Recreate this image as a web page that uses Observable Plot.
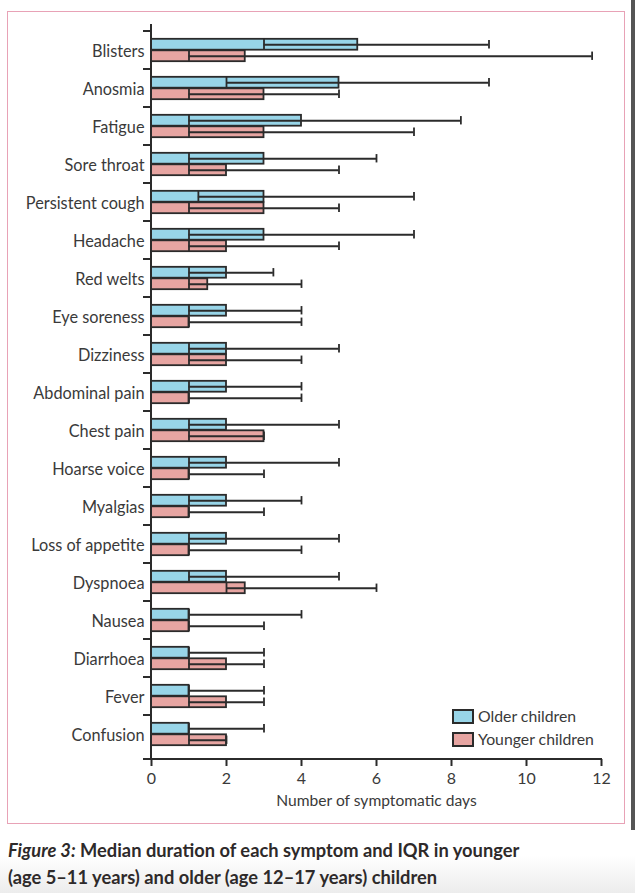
<!DOCTYPE html>
<html>
<head>
<meta charset="utf-8">
<script src="https://cdn.jsdelivr.net/npm/d3@7"></script>
<script src="https://cdn.jsdelivr.net/npm/@observablehq/plot@0.6"></script>
<style>
  html, body { margin: 0; padding: 0; background: #fff; }
  body { width: 635px; height: 893px; overflow: hidden; position: relative; font-family: Lato, "Noto Sans", sans-serif; }
  #wrap { position: absolute; left: 0; top: 0; width: 635px; height: 893px;
    background: linear-gradient(to bottom, #fff 0px, #fff 855px, #ececec 893px); }
  #frame { position: absolute; left: 7px; top: 11px; width: 616px; height: 811px; border: 1.5px solid #e8a2b6; }
  #edge { position: absolute; left: 631px; top: 0; width: 4px; height: 830px; background: #555; }
  #chart { position: absolute; left: 0; top: 0; }
  .leg { position: absolute; left: 452px; font-size: 15.8px; color: #3a3a3a; line-height: 16px; }
  .leg span.sw { position: absolute; left: 0; top: 0; width: 18px; height: 11px; border: 2px solid #2b2b2b; box-sizing: content-box; }
  .leg span.t { position: absolute; left: 26px; top: -1px; white-space: nowrap; }
  #cap { position: absolute; left: 8px; top: 837px; font-size: 18.3px; font-weight: 700; color: #2e2a2a; line-height: 27px; white-space: nowrap; }
</style>
</head>
<body>
<div id="wrap">
  <div id="frame"></div>
  <div id="edge"></div>
  <div id="chart"></div>
  <div class="leg" style="top:709px"><span class="sw" style="background:#98d5e8"></span><span class="t">Older children</span></div>
  <div class="leg" style="top:732px"><span class="sw" style="background:#e7a5a2"></span><span class="t">Younger children</span></div>
  <div id="cap"><i>Figure 3:</i> Median duration of each symptom and IQR in younger<br>(age 5–11 years) and older (age 12–17 years) children</div>
</div>
<script>
const symptoms = ["Blisters","Anosmia","Fatigue","Sore throat","Persistent cough","Headache","Red welts","Eye soreness","Dizziness","Abdominal pain","Chest pain","Hoarse voice","Myalgias","Loss of appetite","Dyspnoea","Nausea","Diarrhoea","Fever","Confusion"];
const olderMedian = [5.5,5,4,3,3,3,2,2,2,2,2,2,2,2,2,1,1,1,1];
const olderQ1     = [3,2,1,1,1.25,1,1,1,1,1,1,1,1,1,1,1,1,1,1];
const olderQ3     = [9,9,8.25,6,7,7,3.25,4,5,4,5,5,4,5,5,4,3,3,3];
const youngerMedian = [2.5,3,3,2,3,2,1.5,1,2,1,3,1,1,1,2.5,1,2,2,2];
const youngerQ1     = [1,1,1,1,1,1,1,1,1,1,1,1,1,1,2,1,1,1,1];
const youngerQ3     = [11.75,5,7,5,5,5,4,4,4,4,3,3,3,4,6,3,3,3,2];
const xTicks = [0,2,4,6,8,10,12];

const INK = "#2b2b2b";
const BLUE = "#98d5e8";
const PINK = "#e7a5a2";

const older = symptoms.map((s, i) => ({symptom: s, median: olderMedian[i], q1: olderQ1[i], q3: olderQ3[i]}));
const younger = symptoms.map((s, i) => ({symptom: s, median: youngerMedian[i], q1: youngerQ1[i], q3: youngerQ3[i]}));

const H = 815, MT = 25, MB = 56;
const band = (H - MT - MB) / symptoms.length;
const barH = 11.5;
const mid = band / 2;
const oTop = mid - barH, oBot = band - mid;
const yTop = mid, yBot = band - mid - barH;
const capH = 9;
const oC = mid - barH / 2, yC = mid + barH / 2;

function axisLines(index, scales, values, dims) {
  const x = scales.x, y = scales.y;
  const top = dims.marginTop, bottom = dims.height - dims.marginBottom;
  const x0 = x(0), x1 = x(12);
  const g = d3.create("svg:g").attr("stroke", INK).attr("stroke-width", 2).attr("fill", "none");
  g.append("line").attr("x1", x0).attr("x2", x0).attr("y1", top - 1).attr("y2", bottom + 1);
  g.append("line").attr("x1", x0).attr("x2", x1 + 1).attr("y1", bottom).attr("y2", bottom);
  const bounds = symptoms.map(s => y(s)).concat([bottom]);
  for (const b of bounds) {
    g.append("line").attr("x1", x0 - 8).attr("x2", x0).attr("y1", b).attr("y2", b);
  }
  return g.node();
}

function series(data, fill, bTop, bBot, center) {
  return [
    Plot.barX(data, {x: "median", y: "symptom", fill, stroke: INK, strokeWidth: 1.8, insetTop: bTop, insetBottom: bBot}),
    Plot.tickX(data, {x: "q1", y: "symptom", stroke: INK, strokeWidth: 1.8, insetTop: bTop, insetBottom: bBot}),
    Plot.ruleY(data, {x1: "q1", x2: "q3", y: "symptom", dy: center - mid, stroke: INK, strokeWidth: 1.8}),
    Plot.tickX(data, {x: "q3", y: "symptom", stroke: INK, strokeWidth: 1.8, insetTop: center - capH / 2, insetBottom: band - center - capH / 2})
  ];
}

const chart = Plot.plot({
  width: 635,
  height: H,
  marginLeft: 151,
  marginRight: 34,
  marginTop: MT,
  marginBottom: MB,
  style: {fontFamily: "Lato, 'Noto Sans', sans-serif", fontSize: "15px", color: "#3a3a3a", background: "transparent", overflow: "visible"},
  x: {domain: [0, 12], axis: null},
  y: {domain: symptoms, padding: 0, axis: null},
  marks: [
    ...series(older, BLUE, oTop, oBot, oC),
    ...series(younger, PINK, yTop, yBot, yC),
    axisLines,
    Plot.axisY({tickSize: 0, tickPadding: 7, fontSize: 16.3, label: null, dy: 1}),
    Plot.axisX({ticks: xTicks, tickSize: 7, tickPadding: 6, stroke: INK, strokeWidth: 2, fontSize: 16,
      label: "Number of symptomatic days", labelAnchor: "center", labelOffset: 46, labelArrow: "none"})
  ]
});
chart.querySelectorAll("text").forEach(t => {
  if (t.textContent === "Number of symptomatic days") t.setAttribute("font-size", "15.6");
});
document.getElementById("chart").appendChild(chart);
</script>
</body>
</html>
